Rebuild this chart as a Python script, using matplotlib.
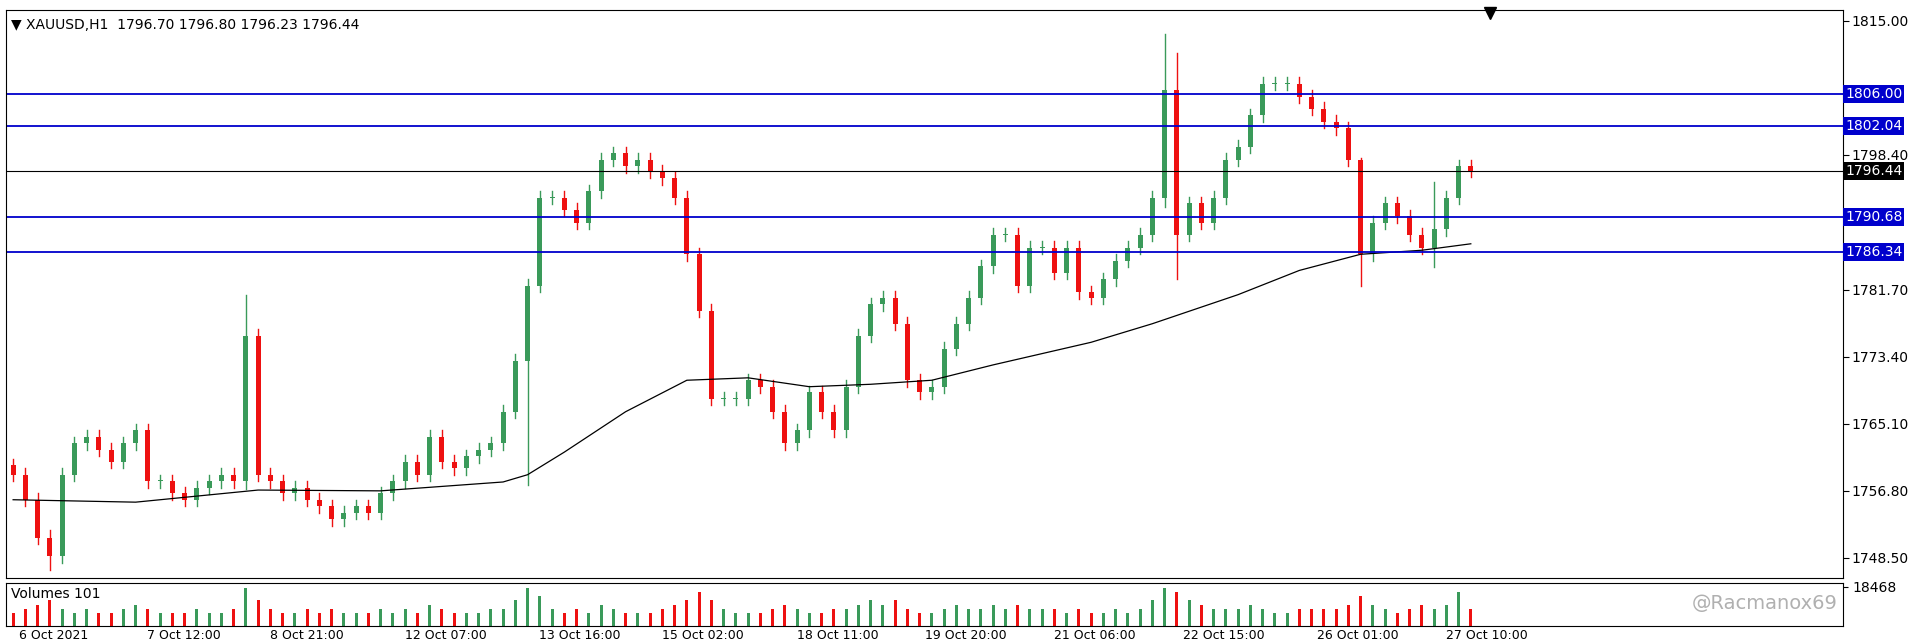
import matplotlib.pyplot as plt
from matplotlib.patches import Rectangle

# hourly closes (one every ~2.5 bars of the original)
closes = [1758.8, 1755.7, 1751.0, 1748.7, 1758.8, 1762.7, 1763.5, 1761.9, 1760.4, 1762.7,
          1764.3, 1758.0, 1758.0, 1756.5, 1755.7, 1757.2, 1758.0, 1758.8, 1758.0, 1776.0,
          1758.8, 1758.0, 1756.5, 1757.2, 1755.7, 1754.9, 1753.3, 1754.1, 1754.9, 1754.1,
          1756.5, 1758.0, 1760.4, 1758.8, 1763.5, 1760.4, 1759.6, 1761.1, 1761.9, 1762.7,
          1766.6, 1772.9, 1782.2, 1793.1, 1793.1, 1791.6, 1790.0, 1793.9, 1797.8, 1798.6,
          1797.0, 1797.8, 1796.3, 1795.5, 1793.1, 1786.1, 1779.1, 1768.2, 1768.2, 1768.2,
          1770.5, 1769.7, 1766.6, 1762.7, 1764.3, 1769.0, 1766.6, 1764.3, 1769.7, 1776.0,
          1779.9, 1780.7, 1777.5, 1770.5, 1769.0, 1769.7, 1774.4, 1777.5, 1780.7, 1784.6,
          1788.5, 1788.5, 1782.2, 1786.9, 1786.9, 1783.8, 1786.9, 1781.4, 1780.7, 1783.0,
          1785.3, 1786.9, 1788.5, 1793.1, 1806.4, 1788.5, 1792.4, 1790.0, 1793.1, 1797.8,
          1799.4, 1803.3, 1807.2, 1807.2, 1807.2, 1805.6, 1804.1, 1802.5, 1801.7, 1797.8,
          1786.1, 1790.0, 1792.4, 1790.8, 1788.5, 1786.9, 1789.2, 1793.1, 1797.0, 1796.44]
first_open = 1760.0
# wick exceptions: index -> (high, low)
spikes = {3: (1752.0, 1747.0), 19: (1781.1, 1757.0), 42: (1783.0, 1757.5), 94: (1813.4, 1792.0),
          95: (1811.0, 1783.0), 110: (1798.0, 1782.2), 116: (1795.0, 1784.5)}
ma_idx = [0, 10, 20, 30, 40, 42, 45, 50, 55, 60, 65, 70, 75, 80, 88, 93, 100, 105, 110, 115, 119]
ma_val = [1755.7, 1755.4, 1756.9, 1756.8, 1757.9, 1758.8, 1761.6, 1766.6, 1770.5, 1770.8, 1769.7,
          1770.0, 1770.5, 1772.4, 1775.2, 1777.5, 1781.1, 1784.1, 1786.1, 1786.6, 1787.4]
volumes = [3, 4, 5, 6, 4, 3, 4, 3, 3, 4, 5, 4, 3, 3, 3, 4, 3, 3, 4, 9,
           6, 4, 3, 3, 4, 3, 4, 3, 3, 3, 4, 3, 4, 3, 5, 4, 3, 3, 3, 4,
           4, 6, 9, 7, 4, 3, 4, 3, 5, 4, 3, 3, 3, 4, 5, 6, 8, 6, 4, 3,
           3, 3, 4, 5, 4, 3, 3, 4, 4, 5, 6, 5, 6, 4, 3, 3, 4, 5, 4, 4,
           5, 4, 5, 4, 4, 4, 3, 4, 3, 3, 4, 3, 4, 6, 9, 8, 6, 5, 4, 4,
           4, 5, 4, 3, 3, 4, 4, 4, 4, 5, 7, 5, 4, 3, 4, 5, 4, 5, 8, 4]
levels_blue = [1806.00, 1802.04, 1790.68, 1786.34]
last_price = 1796.44
yticks = [1815.00, 1798.40, 1781.70, 1773.40, 1765.10, 1756.80, 1748.50]
date_pos = [0, 10.5, 20.5, 31.5, 42.5, 52.5, 63.5, 74, 84.5, 95, 106, 116.5]
date_labels = ['6 Oct 2021', '7 Oct 12:00', '8 Oct 21:00', '12 Oct 07:00', '13 Oct 16:00',
               '15 Oct 02:00', '18 Oct 11:00', '19 Oct 20:00', '21 Oct 06:00', '22 Oct 15:00',
               '26 Oct 01:00', '27 Oct 10:00']

green, red = '#3a9a5a', '#ee1111'
fig = plt.figure(figsize=(19.2, 6.43), dpi=100)
ax = fig.add_axes([0.003, 0.101, 0.957, 0.884])
axv = fig.add_axes([0.003, 0.026, 0.957, 0.067], sharex=ax)
xlim = (-0.6, 149.4)

opens = [first_open] + closes[:-1]
for i, (o, c) in enumerate(zip(opens, closes)):
    col = green if c >= o else red
    hi, lo = spikes.get(i, (max(o, c) + 0.8, min(o, c) - 0.8))
    ax.plot([i, i], [lo, hi], color=col, lw=1)
    ax.add_patch(Rectangle((i - 0.2, min(o, c)), 0.4, max(abs(c - o), 0.1), color=col, lw=0))
    axv.bar(i, volumes[i], width=0.25, color=col)

ax.plot(ma_idx, ma_val, color='black', lw=0.9)
for lv in levels_blue:
    ax.axhline(lv, color='#0000cc', lw=1.3)
ax.axhline(last_price, color='black', lw=0.8)

ax.set_xlim(*xlim)
ax.set_ylim(1746.0, 1816.4)
ax.set_xticks([])
ax.yaxis.tick_right()
ax.set_yticks(yticks)
ax.set_yticklabels(['%.2f' % v for v in yticks], fontsize=10)
ax.tick_params(axis='y', length=4, pad=2)
for lv in levels_blue:
    ax.text(1.001, lv, '%.2f' % lv, transform=ax.get_yaxis_transform(), va='center', ha='left',
            fontsize=10, color='white', bbox=dict(boxstyle='square,pad=0.15', fc='#0000cc', ec='none'))
ax.text(1.001, last_price, '%.2f' % last_price, transform=ax.get_yaxis_transform(), va='center',
        ha='left', fontsize=10, color='white', bbox=dict(boxstyle='square,pad=0.15', fc='black', ec='none'))
ax.text(0.003, 0.985, '\u25bc XAUUSD,H1  1796.70 1796.80 1796.23 1796.44', transform=ax.transAxes,
        va='top', ha='left', fontsize=10)
ax.plot([120.6], [1816.0], marker='v', color='black', ms=8, clip_on=False)

axv.set_ylim(0, 10)
axv.yaxis.tick_right()
axv.set_yticks([9.2])
axv.set_yticklabels(['18468'], fontsize=10)
axv.tick_params(axis='x', length=0, labelbottom=False)
axv.text(0.003, 0.92, 'Volumes 101', transform=axv.transAxes, va='top', ha='left', fontsize=10)
axv.text(0.997, 0.3, '@Racmanox69', transform=axv.transAxes, va='bottom', ha='right',
         fontsize=14, color='#b0b0b0')
for p, lab in zip(date_pos, date_labels):
    fig.text(0.006 + 0.957 * (p - xlim[0]) / (xlim[1] - xlim[0]), 0.002, lab,
             ha='left', va='bottom', fontsize=9)

fig.savefig('out.png', dpi=100)
